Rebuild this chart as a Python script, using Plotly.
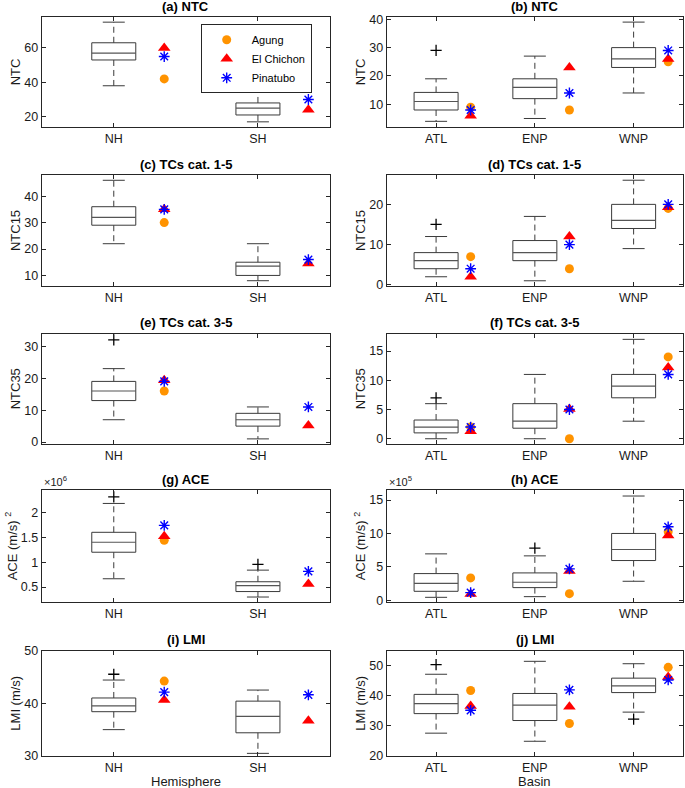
import plotly.graph_objects as go

W, H = 685, 788

HEMIS = ["NH", "SH"]
BASINS = ["ATL", "ENP", "WNP"]

# box stats per category: (lower whisker, q1, median, q3, upper whisker)
NTC_HEM_BOX = [(38, 53, 57, 63, 75), (17, 21, 25, 28, 38)]
NTC_HEM_OUT = [[], []]
NTC_HEM_AGUNG = [42, None]
NTC_HEM_ELCHICHON = [60, 24]
NTC_HEM_PINATUBO = [55, 30]

NTC_BAS_BOX = [(4, 8, 11, 14.2, 19), (5, 12, 16, 19, 27), (14, 23, 26, 30, 39)]
NTC_BAS_OUT = [[29], [], []]
NTC_BAS_AGUNG = [9, 8, 25]
NTC_BAS_ELCHICHON = [6, 23, 26]
NTC_BAS_PINATUBO = [8, 14, 29]

NTC15_HEM_BOX = [(22, 29, 32, 36, 46), (8, 10, 13.5, 15, 22)]
NTC15_HEM_OUT = [[], []]
NTC15_HEM_AGUNG = [30, None]
NTC15_HEM_ELCHICHON = [35, 14.5]
NTC15_HEM_PINATUBO = [35, 16]

NTC15_BAS_BOX = [(2, 4, 6, 8, 12), (1, 6, 8, 11, 17), (9, 14, 16, 20, 26)]
NTC15_BAS_OUT = [[15], [], []]
NTC15_BAS_AGUNG = [7, 4, 19]
NTC15_BAS_ELCHICHON = [2, 12, 19.3]
NTC15_BAS_PINATUBO = [4, 10, 20]

NTC35_HEM_BOX = [(7, 13, 16, 19, 23), (1, 5, 7, 9, 11)]
NTC35_HEM_OUT = [[32], []]
NTC35_HEM_AGUNG = [16, None]
NTC35_HEM_ELCHICHON = [19.4, 5.2]
NTC35_HEM_PINATUBO = [19, 11]

NTC35_BAS_BOX = [(0, 1, 2, 3.2, 6), (0, 1.8, 3, 6, 11), (3, 7, 9, 11, 17)]
NTC35_BAS_OUT = [[7], [], []]
NTC35_BAS_AGUNG = [2, 0, 14]
NTC35_BAS_ELCHICHON = [1.3, 5.1, 12.2]
NTC35_BAS_PINATUBO = [2, 5, 11]

ACE_HEM_BOX = [(0.667e6, 1.2e6, 1.4e6, 1.6e6, 2.18e6), (0.3e6, 0.41e6, 0.527e6, 0.607e6, 0.84e6)]
ACE_HEM_OUT = [[2.31e6], [0.955e6]]
ACE_HEM_AGUNG = [1.44e6, None]
ACE_HEM_ELCHICHON = [1.52e6, 0.56e6]
ACE_HEM_PINATUBO = [1.74e6, 0.815e6]

ACE_BAS_BOX = [(0.45e5, 1.35e5, 2.55e5, 4.0e5, 6.95e5), (0.55e5, 1.9e5, 2.7e5, 4.1e5, 6.65e5),
               (2.85e5, 5.95e5, 7.6e5, 10.0e5, 15.6e5)]
ACE_BAS_OUT = [[], [7.8e5], []]
ACE_BAS_AGUNG = [3.35e5, 1.0e5, 10.25e5]
ACE_BAS_ELCHICHON = [0.95e5, 4.4e5, 9.7e5]
ACE_BAS_PINATUBO = [1.15e5, 4.7e5, 11.0e5]

LMI_HEM_BOX = [(35, 38.4, 39.5, 41.0, 44.4), (30.5, 34.4, 37.5, 40.4, 42.5)]
LMI_HEM_OUT = [[45.5], []]
LMI_HEM_AGUNG = [44.2, None]
LMI_HEM_ELCHICHON = [40.6, 36.7]
LMI_HEM_PINATUBO = [42.1, 41.6]

LMI_BAS_BOX = [(27.6, 34.1, 37.4, 40.5, 47.2), (24.9, 31.8, 36.9, 40.8, 51.5), (34.6, 41.1, 43.3, 45.9, 50.7)]
LMI_BAS_OUT = [[50.4], [], [32.3]]
LMI_BAS_AGUNG = [41.8, 30.8, 49.5]
LMI_BAS_ELCHICHON = [36.6, 36.4, 46.3]
LMI_BAS_PINATUBO = [35.2, 42.0, 45.3]

# panel table: title, y label, categories, box, outliers, agung, elchichon, pinatubo, y range, dtick, scale
PANELS = [
    ("(a) NTC", "NTC", HEMIS, NTC_HEM_BOX, NTC_HEM_OUT, NTC_HEM_AGUNG, NTC_HEM_ELCHICHON, NTC_HEM_PINATUBO, [14, 78], 20, 1),
    ("(b) NTC", "NTC", BASINS, NTC_BAS_BOX, NTC_BAS_OUT, NTC_BAS_AGUNG, NTC_BAS_ELCHICHON, NTC_BAS_PINATUBO, [2, 40.8], 10, 1),
    ("(c) TCs cat. 1-5", "NTC15", HEMIS, NTC15_HEM_BOX, NTC15_HEM_OUT, NTC15_HEM_AGUNG, NTC15_HEM_ELCHICHON, NTC15_HEM_PINATUBO, [6, 48], 10, 1),
    ("(d) TCs cat. 1-5", "NTC15", BASINS, NTC15_BAS_BOX, NTC15_BAS_OUT, NTC15_BAS_AGUNG, NTC15_BAS_ELCHICHON, NTC15_BAS_PINATUBO, [-0.3, 27.3], 10, 1),
    ("(e) TCs cat. 3-5", "NTC35", HEMIS, NTC35_HEM_BOX, NTC35_HEM_OUT, NTC35_HEM_AGUNG, NTC35_HEM_ELCHICHON, NTC35_HEM_PINATUBO, [-0.6, 34], 10, 1),
    ("(f) TCs cat. 3-5", "NTC35", BASINS, NTC35_BAS_BOX, NTC35_BAS_OUT, NTC35_BAS_AGUNG, NTC35_BAS_ELCHICHON, NTC35_BAS_PINATUBO, [-0.9, 18], 5, 1),
    ("(g) ACE", "ACE (m/s) <sup>2</sup>", HEMIS, ACE_HEM_BOX, ACE_HEM_OUT, ACE_HEM_AGUNG, ACE_HEM_ELCHICHON, ACE_HEM_PINATUBO, [0.2, 2.45], 0.5, 1e6),
    ("(h) ACE", "ACE (m/s) <sup>2</sup>", BASINS, ACE_BAS_BOX, ACE_BAS_OUT, ACE_BAS_AGUNG, ACE_BAS_ELCHICHON, ACE_BAS_PINATUBO, [-0.25, 16.5], 5, 1e5),
    ("(i) LMI", "LMI (m/s)", HEMIS, LMI_HEM_BOX, LMI_HEM_OUT, LMI_HEM_AGUNG, LMI_HEM_ELCHICHON, LMI_HEM_PINATUBO, [30, 50], 10, 1),
    ("(j) LMI", "LMI (m/s)", BASINS, LMI_BAS_BOX, LMI_BAS_OUT, LMI_BAS_AGUNG, LMI_BAS_ELCHICHON, LMI_BAS_PINATUBO, [20, 55.1], 10, 1),
]

# layout in window pixels
COLS = [(41.7, 330.0), (386.7, 683.0)]
ROWS = [(17, 127), (175, 286), (333.5, 444), (490, 602), (650.5, 756)]
BOX_HALF_PX = 22
MARK_OFFSET = 0.35
FONT = "Liberation Sans, Arial, Helvetica, sans-serif"
LC = "#3a3a3a"
AX = "#262626"
TXT = "#1a1a1a"


def px(x):
    return x / W


def py(y):
    return 1 - y / H


fig = go.Figure()
annotations = []

for k, (title, ylab, cats, box, outs, ag, ec, pi, yr, dt, sc) in enumerate(PANELS):
    idx = k + 1
    xa = "x" if idx == 1 else f"x{idx}"
    ya = "y" if idx == 1 else f"y{idx}"
    col = k % 2
    row = k // 2
    l, r = COLS[col]
    t, b = ROWS[row]
    n = len(cats)
    xr = [0.5, n + 0.5]
    hw = BOX_HALF_PX * (xr[1] - xr[0]) / (r - l)
    pos = list(range(1, n + 1))

    for i, (lo, q1, md, q3, hi) in enumerate(box):
        p = pos[i]
        lo, q1, md, q3, hi = lo / sc, q1 / sc, md / sc, q3 / sc, hi / sc
        # whiskers (dashed)
        fig.add_trace(go.Scatter(x=[p, p, None, p, p], y=[q3, hi, None, q1, lo], mode="lines",
                                 line=dict(color=LC, width=1, dash="6px,4px"), showlegend=False,
                                 hoverinfo="skip", xaxis=xa, yaxis=ya))
        # caps
        fig.add_trace(go.Scatter(x=[p - hw / 2, p + hw / 2, None, p - hw / 2, p + hw / 2],
                                 y=[hi, hi, None, lo, lo], mode="lines",
                                 line=dict(color=LC, width=1), showlegend=False,
                                 hoverinfo="skip", xaxis=xa, yaxis=ya))
        # box
        fig.add_trace(go.Scatter(x=[p - hw, p + hw, p + hw, p - hw, p - hw],
                                 y=[q1, q1, q3, q3, q1], mode="lines",
                                 line=dict(color=LC, width=1), showlegend=False,
                                 hoverinfo="skip", xaxis=xa, yaxis=ya))
        # median
        fig.add_trace(go.Scatter(x=[p - hw, p + hw], y=[md, md], mode="lines",
                                 line=dict(color="#555555", width=1.2), showlegend=False,
                                 hoverinfo="skip", xaxis=xa, yaxis=ya))
        # outliers
        if outs[i]:
            fig.add_trace(go.Scatter(x=[p] * len(outs[i]), y=[v / sc for v in outs[i]], mode="markers",
                                     marker=dict(symbol="cross-thin-open", size=8, color="black",
                                                 line=dict(color="black", width=1.3)),
                                     showlegend=False, hoverinfo="skip", xaxis=xa, yaxis=ya))

    mx = [p + MARK_OFFSET for p in pos]

    def scl(vals):
        return [None if v is None else v / sc for v in vals]

    fig.add_trace(go.Scatter(x=mx, y=scl(ag), mode="markers", name="Agung",
                             marker=dict(symbol="circle", size=9, color="#FF9300"),
                             showlegend=(idx == 1), xaxis=xa, yaxis=ya))
    fig.add_trace(go.Scatter(x=mx, y=scl(ec), mode="markers", name="El Chichon",
                             marker=dict(symbol="triangle-up", size=11, color="#FF0000"),
                             showlegend=(idx == 1), xaxis=xa, yaxis=ya))
    fig.add_trace(go.Scatter(x=mx, y=scl(pi), mode="markers", name="Pinatubo",
                             marker=dict(symbol="asterisk-open", size=9, color="#0000FF",
                                         line=dict(color="#0000FF", width=1.4)),
                             showlegend=(idx == 1), xaxis=xa, yaxis=ya))

    xkey = "xaxis" if idx == 1 else f"xaxis{idx}"
    ykey = "yaxis" if idx == 1 else f"yaxis{idx}"
    fig.layout[xkey] = dict(
        domain=[px(l), px(r)], anchor=ya, range=xr, tickvals=pos, ticktext=cats,
        ticks="inside", ticklen=4, tickcolor=AX, showline=True, linecolor=AX, linewidth=1,
        mirror="ticks", showgrid=False, zeroline=False, fixedrange=True, automargin=False,
        tickfont=dict(size=12.5, color=TXT, family=FONT),
    )
    fig.layout[ykey] = dict(
        domain=[py(b), py(t)], anchor=xa, range=yr, dtick=dt, tick0=0,
        ticks="inside", ticklen=4, tickcolor=AX, showline=True, linecolor=AX, linewidth=1,
        mirror="ticks", showgrid=False, zeroline=False, fixedrange=True, automargin=False,
        tickfont=dict(size=12.5, color=TXT, family=FONT),
        title=dict(text=ylab, font=dict(size=13, color=TXT, family=FONT), standoff=0),
    )
    annotations.append(dict(text=f"<b>{title}</b>", x=px((l + r) / 2), y=py(t - 1.5),
                            xref="paper", yref="paper", xanchor="center", yanchor="bottom",
                            showarrow=False, font=dict(size=13, color="black", family=FONT)))
    if sc != 1:
        expo = len(str(int(sc))) - 1
        annotations.append(dict(text=f"×10<sup>{expo}</sup>", x=px(l), y=py(t - 0.5),
                                xref="paper", yref="paper", xanchor="left", yanchor="bottom",
                                showarrow=False, font=dict(size=11, color=TXT, family=FONT)))
    if idx in (9, 10):
        annotations.append(dict(text="Hemisphere" if idx == 9 else "Basin",
                                x=px((l + r) / 2), y=py(781.5),
                                xref="paper", yref="paper", xanchor="center", yanchor="middle",
                                showarrow=False, font=dict(size=13, color=TXT, family=FONT)))

fig.update_layout(
    width=W, height=H, margin=dict(l=0, r=0, t=0, b=0, autoexpand=False),
    paper_bgcolor="white", plot_bgcolor="white",
    font=dict(family=FONT, color=TXT),
    annotations=annotations,
    legend=dict(x=px(200.7), y=py(24.3), xanchor="left", yanchor="top",
                bordercolor=AX, borderwidth=1, bgcolor="white",
                font=dict(size=11, family=FONT, color="black"), tracegroupgap=0,
                itemwidth=40, entrywidth=97),
    showlegend=True,
)

# remove the default 8px page margin so the figure fills the window exactly
fig.write_html("out.html", config={"displayModeBar": False},
               post_script="document.body.style.margin='0px';")
